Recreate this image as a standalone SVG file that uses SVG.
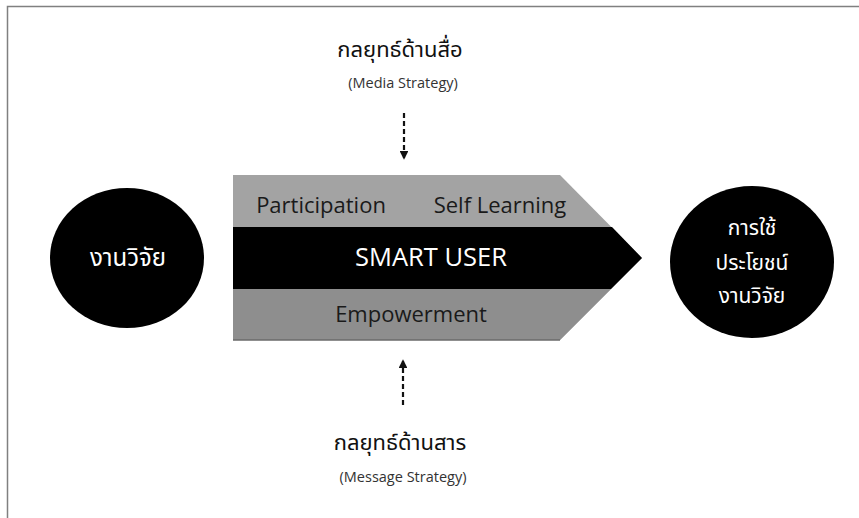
<svg xmlns="http://www.w3.org/2000/svg" width="859" height="518" viewBox="0 0 859 518">
<style>
.th{font-family:"Noto Sans Thai","Noto Sans","DejaVu Sans",sans-serif;}
.lat{font-family:"Open Sans","Noto Sans",sans-serif;}
.w{fill:#ffffff;}
.d{fill:#1a1a1a;}
</style>
<defs>
<marker id="ah" viewBox="0 0 10 10" refX="8" refY="5" markerWidth="4" markerHeight="4" orient="auto-start-reverse">
<path d="M0,0 L10,5 L0,10 z" fill="#111"/>
</marker>
</defs>
<rect width="859" height="518" fill="#ffffff"/>
<path d="M7.5,518 V6.5 H859" fill="none" stroke="#808080" stroke-width="1.5"/>

<g id="research">
<ellipse cx="127" cy="258" rx="77" ry="70" fill="#000"/>
<text class="th w" x="128" y="266" font-size="24" text-anchor="middle">งานวิจัย</text>
</g>

<g id="smart-user">
<polygon points="233,175 560,175 642,258 560,340 233,340" fill="#a3a3a3"/>
<polygon points="233,289 611,289 560,340 233,340" fill="#8e8e8e"/>
<polygon points="233,227 612,227 642,258 611,289 233,289" fill="#000"/>
<line x1="233" y1="340" x2="560" y2="340" stroke="#6a6a6a" stroke-width="1.5"/>
<text class="lat d" x="321" y="213" font-size="22" text-anchor="middle">Participation</text>
<text class="lat d" x="500" y="213" font-size="22" text-anchor="middle">Self Learning</text>
<text class="lat w" x="431" y="266" font-size="25.5" text-anchor="middle">SMART USER</text>
<text class="lat d" x="411" y="322" font-size="22" text-anchor="middle">Empowerment</text>
</g>

<g id="utilization">
<ellipse cx="752" cy="262" rx="82" ry="76" fill="#000"/>
<text class="th w" x="752" y="235" font-size="21" text-anchor="middle">การใช้</text>
<text class="th w" x="752" y="270" font-size="21" text-anchor="middle">ประโยชน์</text>
<text class="th w" x="752" y="303" font-size="21" text-anchor="middle">งานวิจัย</text>
</g>

<g id="media-strategy">
<text class="th" x="400" y="57" font-size="22" text-anchor="middle" fill="#111">กลยุทธ์ด้านสื่อ</text>
<text class="lat" x="403" y="88" font-size="14.5" text-anchor="middle" fill="#333">(Media Strategy)</text>
</g>

<g id="message-strategy">
<text class="th" x="400" y="450" font-size="22" text-anchor="middle" fill="#111">กลยุทธ์ด้านสาร</text>
<text class="lat" x="403" y="482" font-size="14.5" text-anchor="middle" fill="#333">(Message Strategy)</text>
</g>

<g id="connectors" fill="none" stroke="#111" stroke-width="2.2" stroke-dasharray="5,3">
<line x1="404" y1="113" x2="404" y2="158" marker-end="url(#ah)"/>
<line x1="403" y1="405" x2="403" y2="361" marker-end="url(#ah)"/>
</g>
</svg>
